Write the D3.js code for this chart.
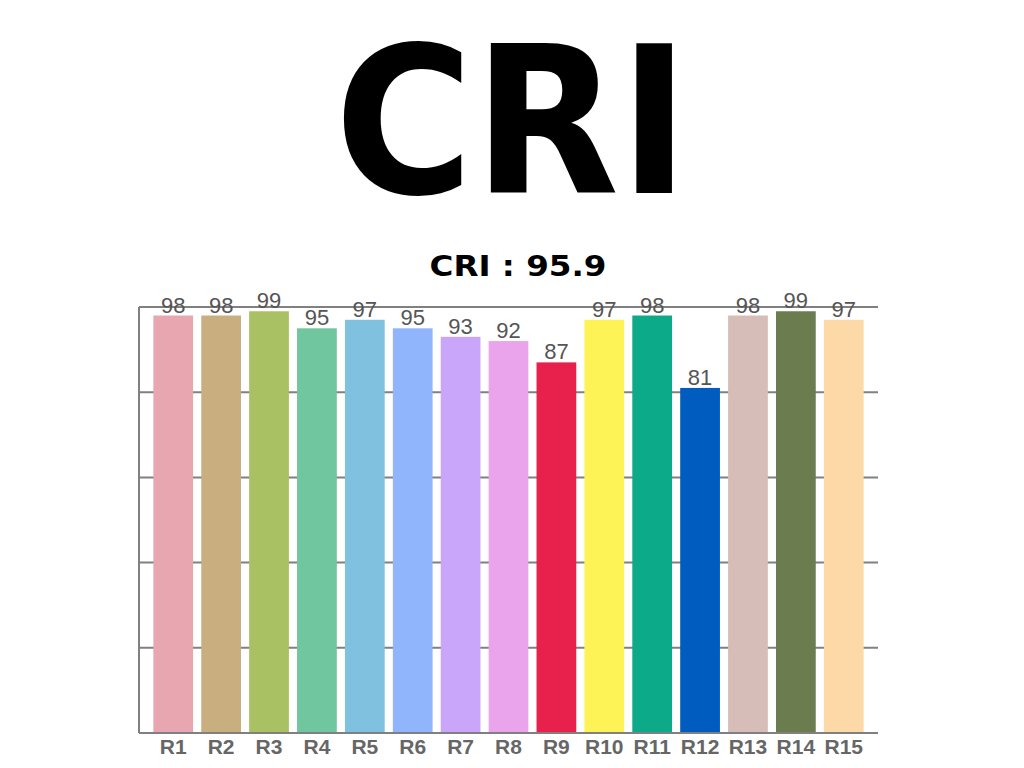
<!DOCTYPE html>
<html>
<head>
<meta charset="utf-8">
<script src="https://cdn.jsdelivr.net/npm/d3@7"></script>
<style>
  html, body { margin: 0; padding: 0; background: #fff; }
  svg { display: block; }
</style>
</head>
<body>
<svg id="chart" width="1024" height="768"></svg>
<script>
const categories = ["R1","R2","R3","R4","R5","R6","R7","R8","R9","R10","R11","R12","R13","R14","R15"];
const values = [98, 98, 99, 95, 97, 95, 93, 92, 87, 97, 98, 81, 98, 99, 97];
const barColors = ["#E8A6B0","#C9AE80","#AAC163","#6FC69F","#80C1DF","#90B5FC","#C9A6FA","#EAA4EC","#E8214C","#FDF356","#0DAA89","#005DBF","#D7BDB8","#6B7D4F","#FDD9A7"];
const yTicks = [0, 20, 40, 60, 80, 100];
const titleText = "CRI";
const subtitleText = "CRI : 95.9";

const svg = d3.select("#chart");

const x = d3.scaleBand().domain(categories).range([139, 878]).paddingInner(0.17).paddingOuter(0.3);
const y = d3.scaleLinear().domain([0, 100]).range([733, 307]);

// Title
svg.append("text")
  .attr("x", 512).attr("y", 193)
  .attr("text-anchor", "middle")
  .attr("font-family", "DejaVu Sans")
  .attr("font-weight", "bold")
  .attr("font-size", 205)
  .attr("textLength", 355)
  .attr("lengthAdjust", "spacingAndGlyphs")
  .attr("fill", "#000")
  .text(titleText);

svg.append("text")
  .attr("x", 518).attr("y", 276)
  .attr("text-anchor", "middle")
  .attr("font-family", "DejaVu Sans")
  .attr("font-weight", "bold")
  .attr("font-size", 29)
  .attr("textLength", 177)
  .attr("lengthAdjust", "spacingAndGlyphs")
  .attr("fill", "#000")
  .text(subtitleText);

// Gridlines
svg.append("g").selectAll("line").data(yTicks).join("line")
  .attr("x1", 139).attr("x2", 878)
  .attr("y1", d => y(d)).attr("y2", d => y(d))
  .attr("stroke", "#808080").attr("stroke-width", 2);

// Left axis line
svg.append("line")
  .attr("x1", 139).attr("x2", 139)
  .attr("y1", y(100)).attr("y2", y(0))
  .attr("stroke", "#808080").attr("stroke-width", 2);

// Bars
svg.append("g").selectAll("rect").data(categories).join("rect")
  .attr("x", d => x(d))
  .attr("width", x.bandwidth())
  .attr("y", (d, i) => y(values[i]))
  .attr("height", (d, i) => y(0) - y(values[i]) - 1)
  .attr("fill", (d, i) => barColors[i]);

// Value labels
svg.append("g").selectAll("text").data(categories).join("text")
  .attr("x", d => x(d) + x.bandwidth() / 2)
  .attr("y", (d, i) => y(values[i]) - 3)
  .attr("text-anchor", "middle")
  .attr("font-family", "Liberation Sans, Arial, sans-serif")
  .attr("font-size", 22)
  .attr("fill", "#555")
  .text((d, i) => values[i]);

// X labels
svg.append("g").selectAll("text").data(categories).join("text")
  .attr("x", d => x(d) + x.bandwidth() / 2)
  .attr("y", 754)
  .attr("text-anchor", "middle")
  .attr("font-family", "Liberation Sans, Arial, sans-serif")
  .attr("font-weight", "bold")
  .attr("font-size", 21)
  .attr("fill", "#666")
  .text(d => d);
</script>
</body>
</html>
